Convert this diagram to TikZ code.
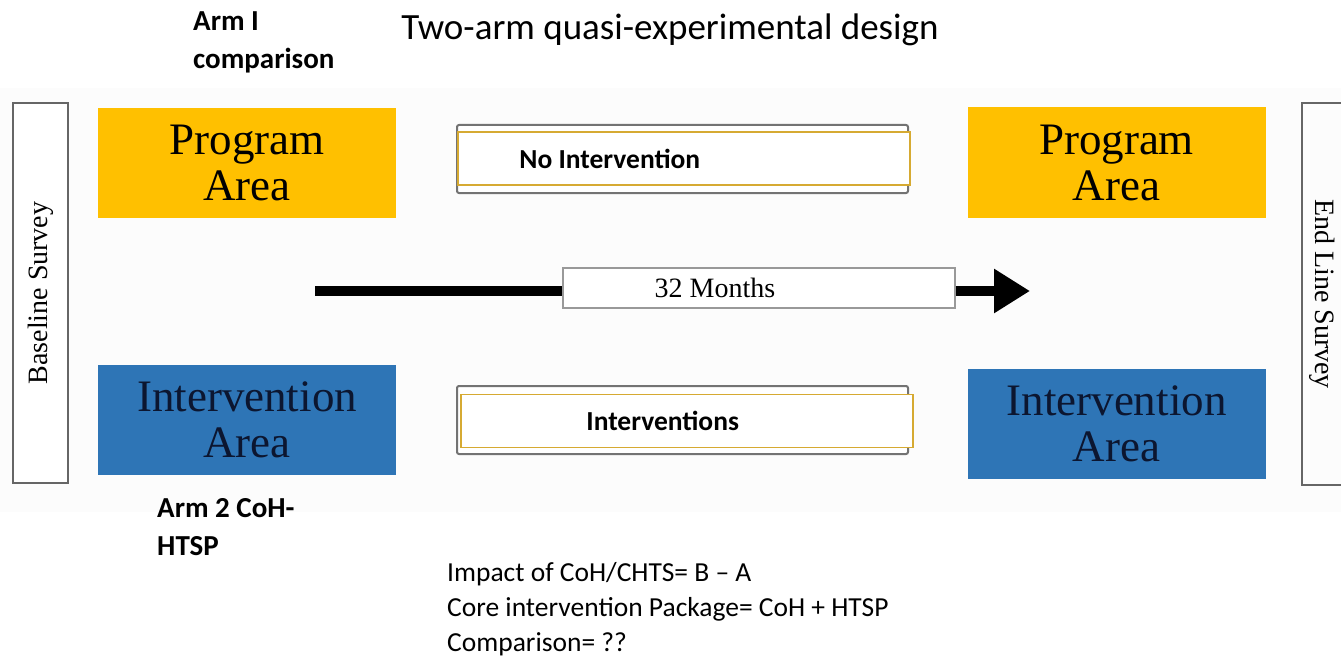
\documentclass[tikz,border=0pt]{standalone}
\usepackage{fontspec}
\setmainfont{Carlito}
\newfontfamily\timesfont{Liberation Serif}
\usepackage{xcolor}
\usepackage{tikz}
\usetikzlibrary{arrows.meta,positioning}

\definecolor{progyellow}{RGB}{255,192,0}
\definecolor{intblue}{RGB}{46,117,182}
\definecolor{boxgold}{RGB}{214,170,50}
\definecolor{darknavy}{RGB}{12,22,48}

\tikzset{
  area/.style={minimum width=298pt,minimum height=110pt,inner sep=0pt,align=center,
    font=\timesfont\fontsize{45}{46}\selectfont},
  survey/.style={draw=black!60,line width=1.8pt,fill=white,inner sep=0pt,
    font=\timesfont\fontsize{28}{30}\selectfont},
  outerbox/.style={draw=black!55,line width=2pt,rounded corners=2pt,fill=white,
    minimum width=451pt,minimum height=68pt},
  innerbox/.style={draw=boxgold,line width=1.6pt,fill=white,
    minimum width=452pt,minimum height=53pt},
  boldlabel/.style={font=\bfseries\fontsize{29}{38}\selectfont,align=left,inner sep=0pt},
  notes/.style={font=\fontsize{27.5}{35}\selectfont,align=left,inner sep=0pt}
}

\begin{document}
\begin{tikzpicture}[x=1pt,y=-1pt]
  \useasboundingbox (0,0) rectangle (1341,666);
  % pale panel behind the design
  \fill[black!1] (0,88) rectangle (1341,512);

  % heading and arm labels
  \node (title) at (670,30) {\fontsize{37}{44}\selectfont Two-arm quasi-experimental design};
  \node[boldlabel,anchor=north west] (arm1) at (193,11) {Arm I\\comparison};
  \node[boldlabel,anchor=north west] (arm2) at (157,498) {Arm 2 CoH-\\HTSP};

  % surveys at both ends
  \node[survey,rotate=90,minimum width=380pt,minimum height=55pt] (baseline) at (40.5,293) {Baseline Survey};
  \draw[black!60,line width=1.8pt] (1345,103) -| (1302,485) -- (1345,485);
  \node[font=\timesfont\fontsize{28}{30}\selectfont,rotate=-90] (endline) at (1322,294) {End Line Survey};

  % program and intervention areas
  \foreach \x/\y/\name in {247/163/progL, 1116.5/162.5/progR}
    \node[area,fill=progyellow] (\name) at (\x,\y) {Program\\Area};
  \foreach \x/\y/\name in {247/420/intL, 1116.5/424/intR}
    \node[area,fill=intblue,text=darknavy] (\name) at (\x,\y) {Intervention\\Area};

  % what each arm receives
  \node[outerbox] (nointOut) at (682.5,159) {};
  \node[innerbox] (noint) at (684,158.5) {};
  \node[font=\bfseries\fontsize{27.5}{30}\selectfont,anchor=west,inner sep=0pt] (nointText) at ([xshift=62pt]noint.west) {No Intervention};
  \node[outerbox] (intvOut) at (682.5,420) {};
  \node[innerbox] (intv) at (687,421) {};
  \node[font=\bfseries\fontsize{27.5}{30}\selectfont,anchor=west,inner sep=0pt] (intvText) at ([xshift=126pt]intv.west) {Interventions};

  % time line
  \node[draw=black!40,line width=1.2pt,fill=white,minimum width=392pt,minimum height=40pt] (months) at (759,288) {};
  \node[font=\timesfont\fontsize{28}{30}\selectfont] (monthsText) at ([xshift=-44pt]months.center) {32 Months};
  \coordinate (start) at (315,291);
  \coordinate (tip) at (1030,291);
  \draw[line width=10pt] (start) -- (start -| months.west);
  \draw[line width=10pt,-{Triangle[length=36pt,width=42pt]}] (tip -| months.east) -- (tip);

  % notes under the design
  \node[notes,anchor=north west] (impact) at (447,562)
    {Impact of CoH/CHTS= B -- A\\Core intervention Package= CoH + HTSP\\Comparison= ??};
\end{tikzpicture}
\end{document}
